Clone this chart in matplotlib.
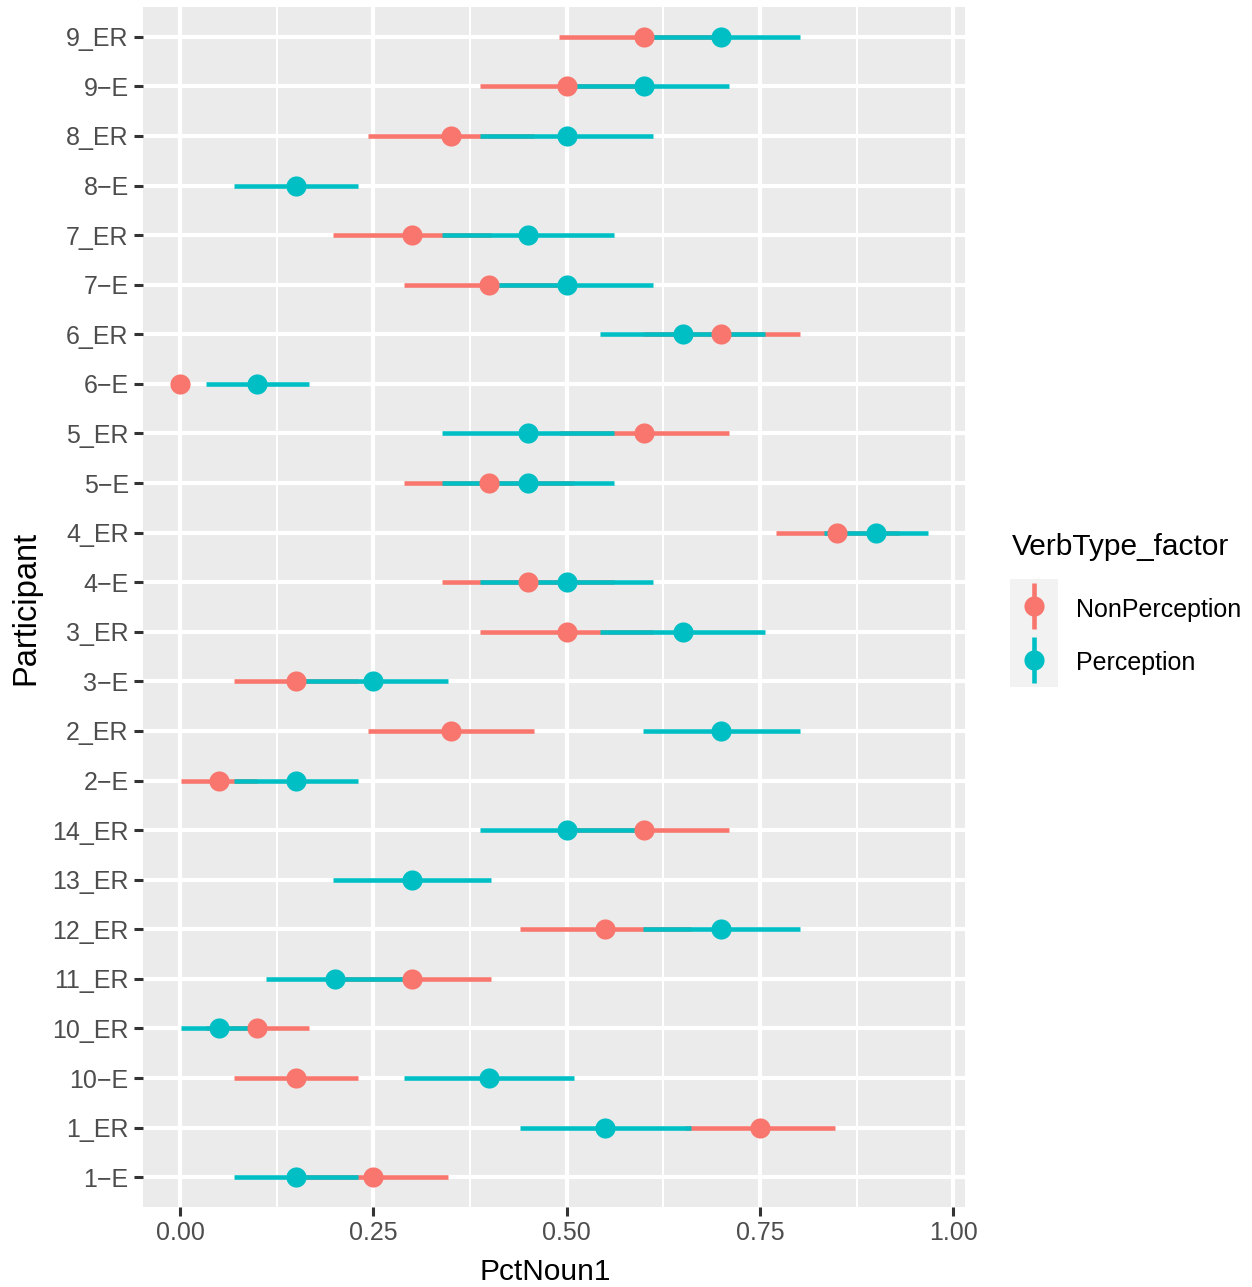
import numpy as np
import matplotlib
matplotlib.use("Agg")
import matplotlib.pyplot as plt

plt.rcParams['font.family'] = ['Liberation Sans', 'DejaVu Sans']

# participants, bottom to top
participants = ["1−E", "1_ER", "10−E", "10_ER", "11_ER", "12_ER", "13_ER", "14_ER",
                "2−E", "2_ER", "3−E", "3_ER", "4−E", "4_ER", "5−E", "5_ER",
                "6−E", "6_ER", "7−E", "7_ER", "8−E", "8_ER", "9−E", "9_ER"]

nan = np.nan
# NonPerception: mean and range ends
np_mean = [0.25, 0.75, 0.15, 0.10, 0.30, 0.55, nan, 0.60,
           0.05, 0.35, 0.15, 0.50, 0.45, 0.85, 0.40, 0.60,
           0.00, 0.70, 0.40, 0.30, nan, 0.35, 0.50, 0.60]
np_lo = [0.153, 0.653, 0.070, 0.033, 0.198, 0.439, nan, 0.490,
         0.001, 0.243, 0.070, 0.388, 0.339, 0.770, 0.290, 0.490,
         0.000, 0.598, 0.290, 0.198, nan, 0.243, 0.388, 0.490]
np_hi = [0.347, 0.847, 0.230, 0.167, 0.402, 0.661, nan, 0.710,
         0.099, 0.457, 0.230, 0.612, 0.561, 0.930, 0.510, 0.710,
         0.000, 0.802, 0.510, 0.402, nan, 0.457, 0.612, 0.710]

# Perception
p_mean = [0.15, 0.55, 0.40, 0.05, 0.20, 0.70, 0.30, 0.50,
          0.15, 0.70, 0.25, 0.65, 0.50, 0.90, 0.45, 0.45,
          0.10, 0.65, 0.50, 0.45, 0.15, 0.50, 0.60, 0.70]
p_lo = [0.070, 0.439, 0.290, 0.001, 0.111, 0.598, 0.198, 0.388,
        0.070, 0.598, 0.153, 0.543, 0.388, 0.833, 0.339, 0.339,
        0.033, 0.543, 0.388, 0.339, 0.070, 0.388, 0.490, 0.598]
p_hi = [0.230, 0.661, 0.510, 0.099, 0.289, 0.802, 0.402, 0.612,
        0.230, 0.802, 0.347, 0.757, 0.612, 0.967, 0.561, 0.561,
        0.167, 0.757, 0.612, 0.561, 0.230, 0.612, 0.710, 0.802]

groups = ["NonPerception", "Perception"]
colors = ["#F8766D", "#00BFC4"]

W, H = 1252, 1287
fig = plt.figure(figsize=(W / 100, H / 100), dpi=100)

# panel in pixel coordinates
left, right, top, bottom = 143, 965, 7, 1207
ax = fig.add_axes([left / W, 1 - bottom / H, (right - left) / W, (bottom - top) / H])
ax.set_facecolor("#EBEBEB")
for s in ax.spines.values():
    s.set_visible(False)

y = np.arange(len(participants))
series = [(np_mean, np_lo, np_hi), (p_mean, p_lo, p_hi)]

# lines first, then points (like geom_pointrange)
for (m, lo, hi), c in zip(series, colors):
    lo = np.array(lo); hi = np.array(hi)
    ok = ~np.isnan(lo)
    ax.hlines(y[ok], lo[ok], hi[ok], color=c, linewidth=3.3, zorder=3)
for (m, lo, hi), c in zip(series, colors):
    m = np.array(m)
    ok = ~np.isnan(m)
    ax.plot(m[ok], y[ok], 'o', color=c, markersize=14.5, markeredgewidth=0, zorder=4)

ax.set_xlim(-0.048, 1.015)
ax.set_ylim(-0.6, len(participants) - 0.4)
ax.set_xticks([0, 0.25, 0.5, 0.75, 1.0])
ax.set_xticklabels(["0.00", "0.25", "0.50", "0.75", "1.00"])
ax.set_xticks([0.125, 0.375, 0.625, 0.875], minor=True)
ax.set_yticks(y)
ax.set_yticklabels(participants)

ax.grid(which='major', color='white', linewidth=3.0, zorder=0)
ax.grid(which='minor', axis='x', color='white', linewidth=1.5, zorder=0)
ax.set_axisbelow(True)
ax.tick_params(which='major', length=6.5, width=2.2, color='#333333',
               labelcolor='#4D4D4D', labelsize=18, pad=3.8)
ax.tick_params(which='minor', length=0)

fig.text(545 / W, 1 - 1280 / H, "PctNoun1", ha='center', va='baseline', fontsize=21.5)
fig.text(26 / W, 1 - 608 / H, "Participant", ha='center', va='center',
         rotation=90, fontsize=23.5)

# legend drawn by hand
lax = fig.add_axes([1010 / W, 1 - 687 / H, 48 / W, 108 / H])
lax.set_facecolor("#F2F2F2")
lax.set_xlim(0, 1)
lax.set_ylim(0, 2)
lax.set_xticks([]); lax.set_yticks([])
for s in lax.spines.values():
    s.set_visible(False)
for i, c in enumerate(colors):
    cy = 1.5 - i
    lax.vlines(0.5, cy - 0.42, cy + 0.42, color=c, linewidth=3.3)
    lax.plot(0.5, cy, 'o', color=c, markersize=14.5, markeredgewidth=0)

fig.text(1012 / W, 1 - 555 / H, "VerbType_factor", ha='left', va='baseline', fontsize=21.5)
fig.text(1076 / W, 1 - 617 / H, groups[0], ha='left', va='baseline', fontsize=18)
fig.text(1076 / W, 1 - 670 / H, groups[1], ha='left', va='baseline', fontsize=18)

fig.savefig("out.png", dpi=100)
